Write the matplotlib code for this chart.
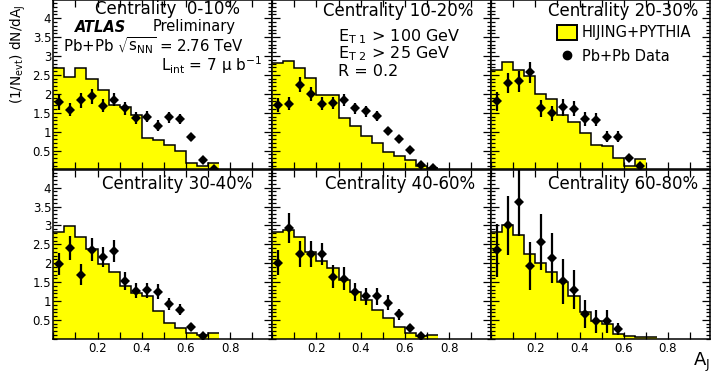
import numpy as np
import matplotlib
matplotlib.use("Agg")
import matplotlib.pyplot as plt
from matplotlib.ticker import MultipleLocator, FixedLocator, FuncFormatter
from matplotlib.patches import Patch
from matplotlib.lines import Line2D

# ---------------- data ----------------
bin_width = 0.05
centrality = ["Centrality  0-10%", "Centrality 10-20%", "Centrality 20-30%",
              "Centrality 30-40%", "Centrality 40-60%", "Centrality 60-80%"]

# HIJING+PYTHIA expectation, per A_J bin (0.05 wide, starting at 0)
mc_0_10 = [2.67, 2.45, 2.67, 2.38, 2.11, 1.71, 1.65, 1.45, 0.83, 0.79, 0.65, 0.48, 0.17, 0.10, 0.17]
mc_10_20 = [2.82, 2.86, 2.68, 2.42, 1.96, 1.96, 1.36, 1.16, 0.89, 0.70, 0.45, 0.36, 0.25, 0.08, 0.03]
mc_20_30 = [2.62, 2.85, 2.62, 2.46, 2.00, 1.86, 1.45, 1.25, 0.96, 0.65, 0.61, 0.30, 0.08, 0.27]
mc_30_40 = [2.83, 2.98, 2.70, 2.38, 1.99, 1.78, 1.40, 1.21, 1.14, 0.74, 0.41, 0.28, 0.15, 0.10, 0.15]
mc_40_60 = [2.83, 2.87, 2.69, 2.30, 2.07, 1.87, 1.56, 1.23, 1.02, 0.75, 0.55, 0.31, 0.15, 0.08, 0.10]
mc_60_80 = [2.83, 3.00, 2.74, 2.25, 2.01, 1.77, 1.50, 1.12, 0.70, 0.46, 0.39, 0.13, 0.08, 0.06, 0.06]

# Pb+Pb data, per A_J bin
data_0_10 = [1.78, 1.58, 1.83, 1.93, 1.69, 1.85, 1.62, 1.36, 1.40, 1.16, 1.38, 1.34, 0.85, 0.24, 0.02]
err_0_10 = [0.20, 0.17, 0.20, 0.20, 0.18, 0.18, 0.17, 0.15, 0.15, 0.14, 0.15, 0.14, 0.09, 0.05, 0.02]
data_10_20 = [1.71, 1.74, 2.24, 2.00, 1.74, 1.76, 1.83, 1.62, 1.54, 1.42, 1.01, 0.80, 0.52, 0.12, 0.03]
err_10_20 = [0.18, 0.18, 0.20, 0.19, 0.17, 0.16, 0.16, 0.14, 0.14, 0.13, 0.11, 0.10, 0.08, 0.04, 0.02]
data_20_30 = [1.80, 2.29, 2.33, 2.57, 1.62, 1.49, 1.64, 1.61, 1.34, 1.32, 0.87, 0.87, 0.30, 0.10]
err_20_30 = [0.25, 0.27, 0.27, 0.28, 0.22, 0.20, 0.22, 0.20, 0.19, 0.18, 0.15, 0.15, 0.08, 0.04]
data_30_40 = [1.98, 2.41, 1.70, 2.36, 2.17, 2.32, 1.52, 1.27, 1.28, 1.24, 0.92, 0.77, 0.32, 0.08]
err_30_40 = [0.28, 0.32, 0.27, 0.30, 0.27, 0.30, 0.24, 0.20, 0.20, 0.20, 0.17, 0.15, 0.10, 0.05]
data_40_60 = [2.01, 2.94, 2.24, 2.24, 2.24, 1.64, 1.59, 1.24, 1.12, 1.12, 0.96, 0.65, 0.29, 0.08]
err_40_60 = [0.33, 0.40, 0.35, 0.35, 0.30, 0.30, 0.30, 0.24, 0.22, 0.22, 0.20, 0.15, 0.10, 0.05]
data_60_80 = [2.34, 3.00, 3.63, 1.92, 2.56, 2.14, 1.52, 1.30, 0.66, 0.46, 0.46, 0.25]
err_60_80 = [0.71, 0.79, 0.90, 0.63, 0.73, 0.66, 0.60, 0.51, 0.37, 0.31, 0.30, 0.16]

mc_sets = [mc_0_10, mc_10_20, mc_20_30, mc_30_40, mc_40_60, mc_60_80]
data_sets = [data_0_10, data_10_20, data_20_30, data_30_40, data_40_60, data_60_80]
err_sets = [err_0_10, err_10_20, err_20_30, err_30_40, err_40_60, err_60_80]

y_tick_values = [0.5, 1, 1.5, 2, 2.5, 3, 3.5, 4]
x_tick_values = [0.2, 0.4, 0.6, 0.8]

# ---------------- figure ----------------
W, H = 711, 374
fig = plt.figure(figsize=(W / 100, H / 100), dpi=100)
plt.rcParams["font.family"] = ["DejaVu Sans"]


def fx(x):
    return x / W


def fy(y):
    return 1 - y / H


col_edges = [53.3, 272.2, 491.1, 710.0]
row_edges = [0.0, 169.5, 338.8]
YELLOW = "#ffff00"

axes = []
for i in range(6):
    r, c = divmod(i, 3)
    ax = fig.add_axes([fx(col_edges[c]), fy(row_edges[r + 1]),
                       (col_edges[c + 1] - col_edges[c]) / W,
                       (row_edges[r + 1] - row_edges[r]) / H])
    axes.append(ax)

    mc = np.array(mc_sets[i])
    edges = np.arange(len(mc) + 1) * bin_width
    ax.stairs(mc, edges, fill=True, color=YELLOW, zorder=1)
    ax.stairs(mc, edges, color="black", lw=1.1, baseline=None, zorder=2)

    d = np.array(data_sets[i])
    e = np.array(err_sets[i])
    xc = (np.arange(len(d)) + 0.5) * bin_width
    ax.errorbar(xc, d, yerr=e, fmt="D", color="black", ms=4.8, mew=0,
                elinewidth=1.6, capsize=0, zorder=3)

    ax.set_xlim(0, 0.99)
    ax.set_ylim(0, 4.48)
    ax.xaxis.set_major_locator(FixedLocator(x_tick_values))
    ax.xaxis.set_minor_locator(MultipleLocator(0.1))
    ax.yaxis.set_major_locator(FixedLocator(y_tick_values))
    ax.yaxis.set_minor_locator(MultipleLocator(0.1))
    ax.yaxis.set_major_formatter(FuncFormatter(lambda v, p: f"{v:g}"))
    ax.tick_params(which="both", direction="in", top=True, right=True,
                   labelbottom=(r == 1), labelleft=(c == 0),
                   labelsize=8.5, width=0.9, color="black")
    ax.tick_params(axis="x", which="both", length=5, pad=2.5)
    ax.tick_params(axis="y", which="major", length=6, pad=1.5)
    ax.tick_params(axis="y", which="minor", length=3)
    for s in ax.spines.values():
        s.set_linewidth(1.1)

# centrality labels: (right edge, vertical centre) in pixels
label_pos = [(240, 9), (473, 11), (698, 11), (252, 184), (475, 184), (698, 184)]
for txt, (x, y) in zip(centrality, label_pos):
    fig.text(fx(x), fy(y), txt, ha="right", va="center", fontsize=12)

# experiment / conditions text
fig.text(fx(75), fy(27), "ATLAS", fontsize=10.5, fontweight="bold",
         fontstyle="italic", ha="left", va="center")
fig.text(fx(153), fy(27), "Preliminary", fontsize=10.5, ha="left", va="center")
fig.text(fx(63), fy(46), r"Pb+Pb $\sqrt{\mathregular{s_{NN}}}$ = 2.76 TeV",
         fontsize=10.8, ha="left", va="center")
fig.text(fx(262), fy(65), r"L$_{\mathregular{int}}$ = 7 $\mathregular{\mu}$ b$^{\mathregular{-1}}$",
         fontsize=11, ha="right", va="center")
fig.text(fx(338), fy(37), r"E$_{\mathregular{T\ 1}}$ > 100 GeV", fontsize=11.5,
         ha="left", va="center")
fig.text(fx(338), fy(54), r"E$_{\mathregular{T\ 2}}$ > 25 GeV", fontsize=11.5,
         ha="left", va="center")
fig.text(fx(338), fy(71), "R = 0.2", fontsize=11.5, ha="left", va="center")

# legend
handles = [Patch(facecolor=YELLOW, edgecolor="black", lw=1.4),
           Line2D([], [], ls="none", marker="o", color="black", ms=6)]
axes[2].legend(handles, ["HIJING+PYTHIA", "Pb+Pb Data"], frameon=False,
               loc="upper left", bbox_to_anchor=(fx(557), fy(25)),
               bbox_transform=fig.transFigure, fontsize=10.5,
               handlelength=1.35, handleheight=1.2, handletextpad=0.35,
               labelspacing=0.55, borderaxespad=0, borderpad=0)

# axis titles
fig.text(fx(693), fy(362), r"A$_{\mathregular{J}}$", fontsize=13, ha="left", va="center")
fig.text(fx(18), fy(104), r"(1/N$_{\mathregular{evt}}$) dN/dA$_{\mathregular{J}}$",
         fontsize=9.8, rotation=90, ha="center", va="bottom")

fig.savefig("out.png", dpi=100)
